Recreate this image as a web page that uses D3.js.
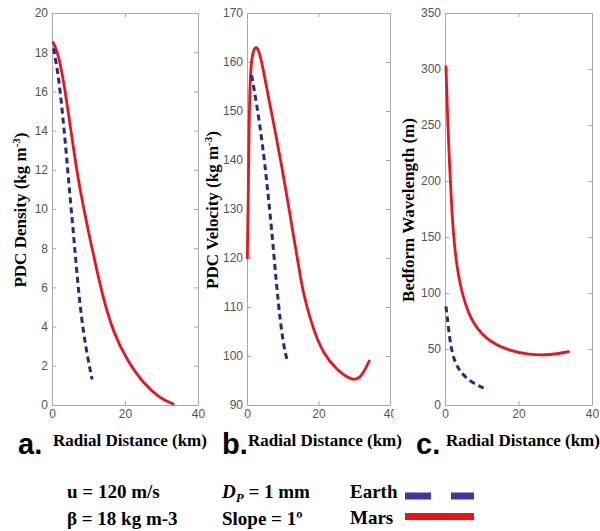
<!DOCTYPE html>
<html>
<head>
<meta charset="utf-8">
<script src="https://cdn.jsdelivr.net/npm/d3@7"></script>
<style>
  body { margin: 0; background: #fff; }
  .tick text { font-family: "Liberation Sans", Arial, sans-serif; font-size: 12px; fill: #555; }
  .axis path, .axis line { stroke: #aaa; }
  .ttl { font-family: "Liberation Serif", "Times New Roman", serif; font-weight: bold; font-size: 17px; fill: #000; }
  .lbl { font-family: "Liberation Sans", Arial, sans-serif; font-weight: bold; font-size: 29px; fill: #000; }
  .note { font-family: "Liberation Serif", "Times New Roman", serif; font-weight: bold; font-size: 19px; fill: #000; }
</style>
</head>
<body>
<svg id="chart" width="600" height="531"></svg>
<script>
// values: [radial distance km, value]
var densMars = [[0.3,18.5],[1.7,17.95],[3.1,16.6],[4.5,14.9],[5.8,13.2],[7.2,11.5],[8.5,10.2],[10.3,8.55],[12.2,6.95],[14.1,5.4],[16.8,3.7],[20.5,2.3],[25,1.1],[29.6,0.34],[33.2,0.05]];
var densEarth = [[0.4,18.2],[1.7,16.9],[2.7,15.2],[3.6,13.5],[4.35,11.9],[5.1,10.3],[5.85,8.8],[6.6,7.2],[7.5,5.4],[8.6,3.7],[9.9,2.3],[11,1.3]];
var velMars = [[0.1,120],[0.2,126],[0.37,133],[0.56,146],[0.84,156.3],[1.3,161],[2.24,163.4],[3.36,162.5],[4.57,158.4],[5.97,152.9],[7.83,146.1],[9.7,138.8],[11.7,130.3],[13.6,122],[15.3,114.5],[16.4,111],[18.5,105.5],[21.3,100.5],[25.1,97.1],[29.7,94.8],[32.1,95.8],[34.2,99]];
var velEarth = [[1.3,157.3],[2.8,151],[4.3,143.5],[5.7,134.5],[7.0,125],[8.2,115],[9.3,107],[10.4,101.5],[11.3,99]];
var waveMars = [[0.27,302],[0.63,263],[1.17,219],[1.82,174],[2.7,135.4],[4.1,105.6],[6.8,75.9],[11.3,58],[16.8,49.1],[23.1,44.6],[28.6,44.6],[33.6,47.6]];
var waveEarth = [[0.27,88],[0.9,70],[1.8,46],[3.6,31.2],[6.8,20.8],[10.6,14.9]];

var xTicks = [0, 20, 40];
var densTicks = [0, 2, 4, 6, 8, 10, 12, 14, 16, 18, 20];
var velTicks = [90, 100, 110, 120, 130, 140, 150, 160, 170];
var waveTicks = [0, 50, 100, 150, 200, 250, 300, 350];

var marsColor = "#e8141e", earthColor = "#232a8c";

var svg = d3.select("#chart");

var panels = [
  {left: 52, right: 198, yDom: [0, 20], yTicks: densTicks, mars: densMars, earth: densEarth,
   title: ["PDC Density (kg m", "-3", ")"], tx: 26, letter: "a.", lx: 18},
  {left: 247, right: 390, yDom: [90, 170], yTicks: velTicks, mars: velMars, earth: velEarth,
   title: ["PDC Velocity (kg m", "-3", ")"], tx: 218, letter: "b.", lx: 222},
  {left: 445, right: 592, yDom: [0, 350], yTicks: waveTicks, mars: waveMars, earth: waveEarth,
   title: ["Bedform Wavelength (m)"], tx: 414, letter: "c.", lx: 416}
];
var plotTop = 13, plotBottom = 405;

panels.forEach(function(p, i) {
  var g = svg.append("g");

  // white backdrop so panel c hides the edge of b's last tick label
  if (i == 2) {
    g.append("rect").attr("x", 394).attr("y", 0)
      .attr("width", 206).attr("height", 425).attr("fill", "#fff");
  }

  var x = d3.scaleLinear().domain([0, 40]).range([p.left, p.right]);
  var y = d3.scaleLinear().domain(p.yDom).range([plotBottom, plotTop]);

  g.append("g").attr("class", "axis")
    .attr("transform", "translate(0," + plotBottom + ")")
    .call(d3.axisBottom(x).tickValues(xTicks).tickSizeInner(-4).tickSizeOuter(0).tickPadding(4));
  g.append("g").attr("class", "axis")
    .attr("transform", "translate(0," + plotTop + ")")
    .call(d3.axisTop(x).tickValues(xTicks).tickSizeInner(-4).tickSizeOuter(0).tickFormat(""));
  g.append("g").attr("class", "axis")
    .attr("transform", "translate(" + p.left + ",0)")
    .call(d3.axisLeft(y).tickValues(p.yTicks).tickSizeInner(-4).tickSizeOuter(0).tickPadding(4));
  g.append("g").attr("class", "axis")
    .attr("transform", "translate(" + p.right + ",0)")
    .call(d3.axisRight(y).tickValues(p.yTicks).tickSizeInner(-4).tickSizeOuter(0).tickFormat(""));

  // b-spline smooths out the small reading errors in the points
  var line = d3.line()
    .x(function(d) { return x(d[0]); })
    .y(function(d) { return y(d[1]); })
    .curve(d3.curveBasis);

  g.append("path").datum(p.mars)
    .attr("fill", "none").attr("stroke", marsColor).attr("stroke-width", 2.8)
    .attr("stroke-linecap", "round").attr("d", line);
  g.append("path").datum(p.earth)
    .attr("fill", "none").attr("stroke", earthColor).attr("stroke-width", 3)
    .attr("stroke-dasharray", "6,4").attr("d", line);

  // y title
  var t = g.append("text").attr("class", "ttl")
    .attr("transform", "translate(" + p.tx + ",210) rotate(-90)")
    .attr("text-anchor", "middle");
  t.append("tspan").text(p.title[0]);
  if (p.title.length > 1) {
    t.append("tspan").attr("font-size", "11px").attr("dy", -6).text(p.title[1]);
    t.append("tspan").attr("dy", 6).text(p.title[2]);
  }

  // x title and panel letter
  g.append("text").attr("class", "ttl").attr("x", p.left + 1).attr("y", 446)
    .text("Radial Distance (km)");
  g.append("text").attr("class", "lbl").attr("x", p.lx).attr("y", 454).text(p.letter);
});

// bottom notes
var notes = svg.append("g").attr("class", "note");
notes.append("text").attr("x", 67).attr("y", 498).text("u = 120 m/s");
notes.append("text").attr("x", 67).attr("y", 525).text("β = 18 kg m-3");
var dp = notes.append("text").attr("x", 222).attr("y", 498);
dp.append("tspan").attr("font-style", "italic").text("D");
dp.append("tspan").attr("font-style", "italic").attr("font-size", "13px").attr("dy", 4).text("P");
dp.append("tspan").attr("dy", -4).text(" = 1 mm");
notes.append("text").attr("x", 222).attr("y", 525).text("Slope = 1º");
notes.append("text").attr("x", 350).attr("y", 498).text("Earth");
notes.append("text").attr("x", 350).attr("y", 524).text("Mars");

// legend swatches
var lx = d3.scaleLinear().domain([0, 1]).range([405, 474]);
svg.append("line").attr("x1", lx(0)).attr("x2", lx(1)).attr("y1", 496).attr("y2", 496)
  .attr("stroke", "#3a3a9e").attr("stroke-width", 7).attr("stroke-dasharray", "26,20");
svg.append("line").attr("x1", lx(0)).attr("x2", lx(1)).attr("y1", 516.5).attr("y2", 516.5)
  .attr("stroke", "#ee1111").attr("stroke-width", 7);
</script>
</body>
</html>
